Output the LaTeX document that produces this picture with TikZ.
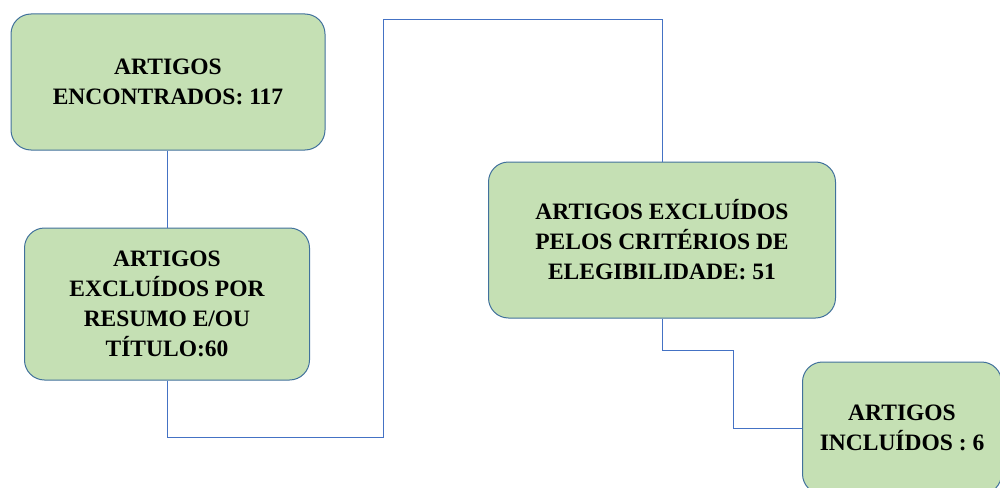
\documentclass[tikz,border=0pt]{standalone}
\usepackage{fontspec}
\setmainfont{Liberation Serif}
\definecolor{boxfill}{HTML}{C5E0B4}
\definecolor{boxline}{HTML}{41719C}
\definecolor{linkline}{HTML}{4472C4}
\tikzset{
	box/.style={draw=boxline, fill=boxfill, line width=1pt, rounded corners=20pt,
		align=center, inner sep=0pt, font=\fontsize{23.5}{30}\selectfont\bfseries},
	link/.style={draw=linkline, line width=1pt}
}

\begin{document}
\begin{tikzpicture}[x=1pt, y=-1pt]
			%%%%% START %%%%%
			\useasboundingbox (0, 0) rectangle (1000, 487);
			\clip (0, 0) rectangle (1000, 487);
			
			\node[box, minimum width=314pt, minimum height=136pt] (encontrados) at (168, 82) {ARTIGOS\\ENCONTRADOS: 117};
			\node[box, minimum width=285pt, minimum height=152pt] (porresumo) at (167, 304) {ARTIGOS\\EXCLUÍDOS POR\\RESUMO E/OU\\TÍTULO:60};
			\node[box, minimum width=347pt, minimum height=156pt] (elegibilidade) at (662, 240) {ARTIGOS EXCLUÍDOS\\PELOS CRITÉRIOS DE\\ELEGIBILIDADE: 51};
			\node[box, minimum width=199pt, minimum height=132pt] (incluidos) at (902, 428) {ARTIGOS\\INCLUÍDOS : 6};
			
			\coordinate (down1) at (383, 437);
			\coordinate (up1) at (383, 20);
			\coordinate (down2) at (733, 350);
			
			\draw[link] (encontrados.south -| porresumo.north) -- (porresumo.north);
			\draw[link] (porresumo.south) |- (down1) -- (up1) -| (elegibilidade.north);
			\draw[link] (elegibilidade.south) |- (down2) |- (incluidos.west);
			%%%%% END %%%%%
		\end{tikzpicture}
\end{document}
